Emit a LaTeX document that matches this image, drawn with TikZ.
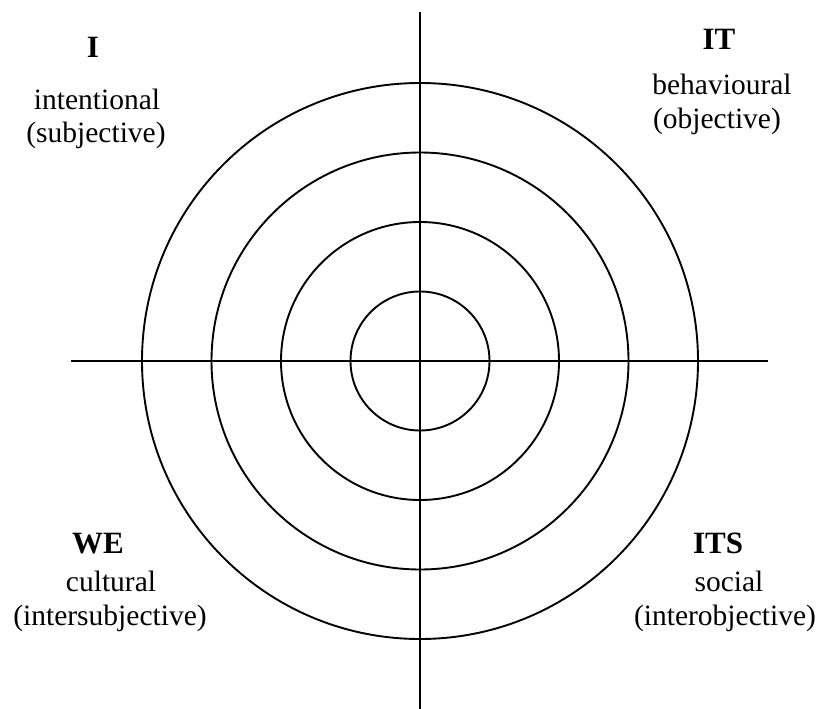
\documentclass[tikz,border=0pt]{standalone}
\usepackage{fontspec}
\setmainfont{Liberation Serif}
\begin{document}
\begin{tikzpicture}[x=1pt,y=-1pt,
  axis/.style={line width=2pt},
  ring/.style={line width=1.9pt},
  head/.style={anchor=base,inner sep=0pt,font=\fontsize{31}{36}\selectfont\bfseries},
  lbl/.style={anchor=base,inner sep=0pt,font=\fontsize{29.5}{35}\selectfont}]
\useasboundingbox (0,0) rectangle (819,709);
\coordinate (c) at (420,361);
\coordinate (top) at (420,12);
\coordinate (bot) at (420,709);
\coordinate (lft) at (71,361);
\coordinate (rgt) at (768,361);
\draw[axis] (top) -- (bot);
\draw[axis] (lft) -- (rgt);
\foreach \r in {69.5,139,208.5,278} \draw[ring] (c) circle[radius=\r];
\node[head] (I) at (93,58) {I};
\node[lbl] (Ia) at (97,109) {intentional};
\node[lbl] (Ib) at (96,142) {(subjective)};
\node[head] (IT) at (719,49) {IT};
\node[lbl] (ITa) at (722,95) {behavioural};
\node[lbl] (ITb) at (717,128) {(objective)};
\node[head] (WE) at (98,553) {WE};
\node[lbl] (WEa) at (111,591) {cultural};
\node[lbl] (WEb) at (110,625) {(intersubjective)};
\node[head] (ITS) at (718,553) {ITS};
\node[lbl] (ITSa) at (729,591) {social};
\node[lbl] (ITSb) at (725,625) {(interobjective)};
\end{tikzpicture}
\end{document}
